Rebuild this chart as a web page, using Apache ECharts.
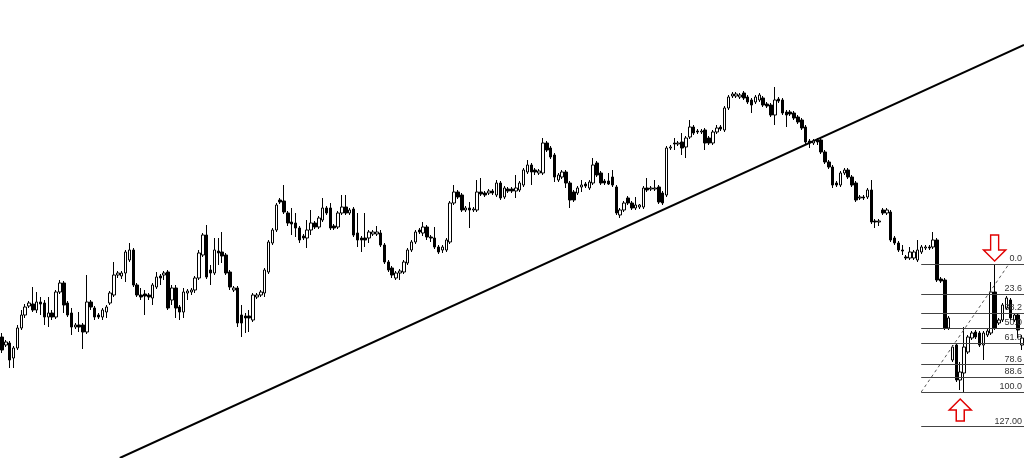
<!DOCTYPE html>
<html>
<head>
<meta charset="utf-8">
<script src="https://cdn.jsdelivr.net/npm/echarts@6/dist/echarts.min.js"></script>
<style>
html,body{margin:0;padding:0;background:#fff;}
#chart{width:1024px;height:458px;}
</style>
</head>
<body>
<div id="chart"></div>
<script>
// Candle OHLC values (price units)
const opens = [
121,113,115,100,110,130,143,152,154,148,
156,155,141,145,141,166,175,155,145,131,
133,133,126,156,150,143,141,146,155,163,
183,182,185,198,208,173,163,164,163,160,
171,182,183,186,158,170,151,146,165,166,
168,180,203,223,188,185,207,206,203,186,
168,170,143,142,142,138,161,163,165,186,
215,228,258,257,245,236,235,230,222,220,
228,235,231,238,250,250,232,231,245,251,
245,249,225,220,220,220,224,224,225,213,
196,190,180,185,186,195,208,216,228,225,
231,221,220,211,208,208,216,255,266,263,
248,250,248,248,266,265,265,267,263,275,
261,269,269,267,268,273,286,293,288,285,
285,315,310,303,278,281,286,275,266,265,
271,274,270,275,295,285,277,277,281,271,
243,248,260,255,250,251,251,270,269,269,
271,265,263,310,315,314,316,311,321,331,
327,326,328,320,315,326,331,328,350,362,
362,361,365,361,358,356,358,360,354,353,
343,359,358,346,346,345,341,338,331,317,
315,318,318,306,296,291,275,273,285,288,
281,275,260,261,261,268,237,236,248,245,
246,220,215,208,201,200,200,198,206,210,
211,211,218,179,178,130,98,113,78,85,
106,120,126,125,113,123,125,166,135,138,
150,158,138,143,113
];
const closes = [
108,116,98,110,130,143,151,155,148,156,
154,141,145,141,166,175,153,143,131,133,
131,126,156,151,141,141,148,151,165,183,
185,185,206,208,173,163,161,162,161,173,
181,180,185,150,170,150,146,166,167,168,
180,205,223,181,185,208,205,202,185,171,
170,135,135,140,140,163,163,166,188,216,
228,253,256,246,235,234,230,218,220,228,
235,231,240,250,245,230,230,245,251,245,
248,223,218,218,218,226,226,226,213,196,
188,183,185,187,196,208,216,226,226,231,
221,220,211,206,211,218,255,266,261,248,
250,248,249,266,264,263,267,265,275,260,
270,267,267,270,275,288,293,286,286,287,
315,308,301,281,283,286,275,258,258,270,
273,272,276,293,283,275,275,274,273,245,
248,255,255,250,253,253,270,268,270,270,
256,255,310,311,314,315,310,320,331,325,
326,327,315,315,326,330,329,350,361,364,
364,363,360,356,353,361,363,353,352,343,
358,357,345,343,344,340,336,330,316,315,
317,316,306,296,291,273,273,285,288,281,
273,258,261,260,268,236,236,237,245,248,
218,215,208,207,200,206,206,208,211,211,
210,218,178,177,130,140,111,78,86,111,
121,125,121,113,125,127,166,130,138,153,
160,140,143,128,120
];
const lows = [
105,111,90,90,108,128,140,150,146,145,
143,133,131,138,139,164,145,141,123,129,
126,109,124,148,138,139,138,140,153,161,
180,179,176,196,171,161,158,143,158,153,
169,173,178,148,153,140,138,140,158,163,
165,178,201,179,173,183,193,195,183,168,
166,131,121,125,126,136,159,161,161,184,
213,226,254,244,232,223,221,215,218,210,
223,229,229,236,243,228,228,229,243,243,
243,221,211,206,211,215,222,222,211,194,
186,180,178,178,184,193,206,214,224,222,
218,216,209,204,205,206,214,253,259,246,
246,230,246,246,262,261,263,263,261,258,
259,265,265,260,266,271,284,273,283,283,
283,306,299,276,276,279,270,250,256,263,
266,270,268,273,281,273,273,273,271,243,
240,246,253,248,248,249,249,266,267,267,
254,253,261,308,308,312,303,300,319,323,
324,324,308,313,313,324,327,326,348,360,
360,359,358,354,345,354,356,351,350,341,
333,355,343,331,342,338,334,328,314,310,
313,313,304,294,289,270,271,271,283,279,
271,256,258,258,259,234,230,232,243,243,
216,213,206,203,198,198,198,196,204,208,
208,209,176,175,128,128,96,76,68,66,
104,118,119,111,98,121,123,128,133,136,
148,138,136,120,108
];
const highs = [
125,118,117,112,133,148,154,157,171,166,
161,158,161,148,168,178,177,157,150,135,
146,135,183,158,152,145,150,153,167,196,
187,187,208,215,210,175,170,168,165,175,
186,184,187,188,173,173,153,170,169,170,
182,208,225,233,193,220,220,226,205,188,
172,172,153,145,148,165,165,168,190,218,
230,255,260,273,247,250,245,232,224,238,
248,237,242,260,252,255,234,247,263,263,
250,251,245,222,245,228,228,232,228,215,
198,192,187,189,198,210,218,228,230,236,
233,223,231,213,213,220,257,273,268,265,
252,256,251,278,280,267,269,269,278,277,
272,271,271,283,277,290,298,295,290,289,
320,317,312,305,285,288,288,277,268,272,
278,276,278,300,297,287,279,285,288,273,
250,257,262,257,261,254,272,280,272,278,
273,267,312,313,320,317,325,322,338,333,
329,329,330,322,328,333,333,352,363,366,
366,365,367,363,360,363,365,362,356,355,
371,361,360,348,348,347,343,340,333,319,
319,320,320,308,298,293,277,287,290,290,
283,277,263,263,270,278,239,239,250,250,
248,222,217,213,203,211,208,218,213,213,
213,226,220,181,180,142,113,115,96,131,
123,127,128,127,127,129,176,194,140,155,
162,160,145,145,123
];
// Trend line anchors (candle index, price)
const trendIdx = [30.5, 264.5];
const trendPrice = [0, 413];
// Fibonacci retracement
const fibHigh = 194;
const fibLow = 66;
const fibStartIdx = 237.9;
const fibEndIdx = 264.5;
const fibHighIdx = 260.6;
const fibRatios = [0, 23.6, 38.2, 50, 61.8, 78.6, 88.6, 100, 127];
const fibLabels = ['0.0', '23.6', '38.2', '50.0', '61.8', '78.6', '88.6', '100.0', '127.00'];
// Arrow markers (candle index, price)
const arrowDown = [256.9, 210];
const arrowUp = [248.0, 48];

const N = opens.length;
const cats = opens.map((_, i) => String(i));
const ohlc = opens.map((o, i) => [o, closes[i], lows[i], highs[i]]);

const fibLines = fibRatios.map((r, k) => {
  const lv = fibHigh - (fibHigh - fibLow) * r / 100;
  return [
    { coord: [fibStartIdx, lv], name: fibLabels[k] },
    { coord: [fibEndIdx, lv] }
  ];
});
fibLines.push([
  { coord: [fibStartIdx, fibLow], lineStyle: { type: [3, 3], color: '#555', width: 1 }, label: { show: false } },
  { coord: [fibHighIdx, fibHigh] }
]);

const downPath = 'path://M7,0 L15,0 L15,15 L22,15 L11,26 L0,15 L7,15 Z';
const upPath = 'path://M11,0 L22,11 L15,11 L15,22 L7,22 L7,11 L0,11 Z';

const chart = echarts.init(document.getElementById('chart'), null, { renderer: 'canvas' });
chart.setOption({
  animation: false,
  backgroundColor: '#ffffff',
  grid: { left: 0, right: 0, top: 0, bottom: 0 },
  xAxis: [
    { type: 'category', data: cats, boundaryGap: true, show: false },
    { type: 'value', min: -0.5, max: N - 0.5, show: false }
  ],
  yAxis: [
    { type: 'value', min: 0, max: 458, show: false, splitLine: { show: false } }
  ],
  series: [
    {
      type: 'line',
      xAxisIndex: 1,
      data: trendIdx.map((x, i) => [x, trendPrice[i]]),
      symbol: 'none',
      lineStyle: { color: '#000', width: 2 },
      z: 3,
      markLine: {
        silent: true,
        symbol: ['none', 'none'],
        lineStyle: { color: '#444', width: 1, type: 'solid' },
        label: {
          show: true,
          position: 'insideEndTop',
          formatter: '{b}',
          color: '#333',
          fontSize: 9,
          fontFamily: 'Liberation Sans',
          distance: [2, 1]
        },
        data: fibLines
      },
      markPoint: {
        silent: true,
        label: { show: false },
        data: [
          { coord: arrowDown, symbol: downPath, symbolSize: [22, 26], itemStyle: { color: '#fff', borderColor: '#e00000', borderWidth: 1.5 } },
          { coord: arrowUp, symbol: upPath, symbolSize: [22, 22], itemStyle: { color: '#fff', borderColor: '#e00000', borderWidth: 1.5 } }
        ]
      }
    },
    {
      type: 'candlestick',
      xAxisIndex: 0,
      data: ohlc,
      barWidth: 3,
      z: 4,
      itemStyle: {
        color: '#ffffff',
        color0: '#000000',
        borderColor: '#000000',
        borderColor0: '#000000',
        borderWidth: 1
      }
    }
  ]
});
</script>
</body>
</html>
